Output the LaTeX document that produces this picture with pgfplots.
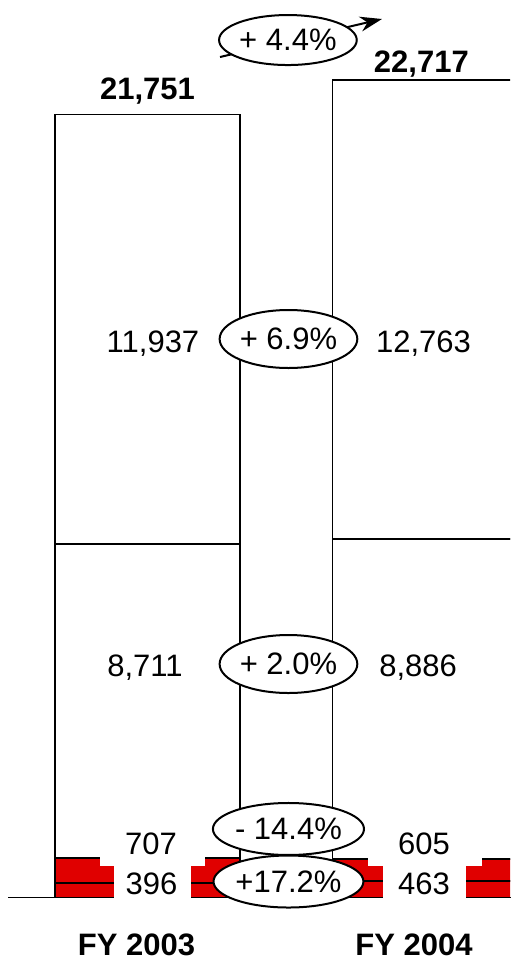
\documentclass[border=0pt]{standalone}
\usepackage{fontspec}
\setmainfont{Liberation Sans}
\usepackage{pgfplots}
\pgfplotsset{compat=1.18}
\usetikzlibrary{arrows.meta,shapes.geometric}
\definecolor{barred}{RGB}{224,0,0}
\tikzset{
  lbl/.style={font=\fontsize{15.5}{18}\selectfont, anchor=base, inner sep=0pt},
  blbl/.style={lbl, font=\fontsize{15.5}{18}\selectfont\bfseries},
  growth/.style={ellipse, draw=black, line width=1pt, fill=white,
    minimum width=63.5pt, minimum height=#1, inner sep=0pt,
    font=\fontsize{15.5}{18}\selectfont},
  growth/.default=29pt,
}
\begin{document}
\begin{tikzpicture}
\begin{axis}[
  at={(0,0)}, anchor=south west,
  scale only axis, width=255pt, height=480pt,
  xmin=-0.5315, xmax=1.3063,
  ymin=-1736, ymax=24931,
  ybar stacked, bar width=92.5pt,
  axis line style={draw=none},
  ytick=\empty,
  xtick={0,1}, xticklabels={FY 2003,FY 2004},
  major tick length=0pt,
  xticklabel style={font=\fontsize{15.5}{18}\selectfont\bfseries,
    anchor=base, inner sep=0pt, yshift=2.2pt, xshift=-5.5pt},
  clip=true,
  after end axis/.code={
    % baseline
    \draw[line width=0.85pt] (axis cs:-0.5016,0) -- (axis cs:1.4,0);
    % white patches behind the small labels
    \fill[white] (axis cs:-0.1712,1264) rectangle (axis cs:0.2072,875);
    \fill[white] (axis cs:-0.1207,875) rectangle (axis cs:0.1568,-45);
    \fill[white] (axis cs:0.7946,1264) rectangle (axis cs:1.2054,875);
    \fill[white] (axis cs:0.8486,875) rectangle (axis cs:1.1477,-45);
    % totals
    \node[blbl] at (axis cs:0,22172) {21,751};
    \node[blbl] at (axis cs:0.987,22911) {22,717};
    % segment labels
    \node[lbl] at (axis cs:0.0198,15153) {11,937};
    \node[lbl] at (axis cs:0.9946,15153) {12,763};
    \node[lbl] at (axis cs:-0.009,6133) {8,711};
    \node[lbl] at (axis cs:0.975,6133) {8,886};
    \node[lbl] at (axis cs:0.0126,1181) {707};
    \node[lbl] at (axis cs:0.0144,89) {396};
    \node[lbl] at (axis cs:0.9964,1181) {605};
    \node[lbl] at (axis cs:0.9964,89) {463};
    % growth ellipses
    \draw[line width=1pt, -{Stealth[length=11pt,width=7.5pt]}]
      (axis cs:0.2613,23347) -- (axis cs:0.845,24403);
    \node[growth=25pt] at (axis cs:0.506,23819) {+ 4.4\%};
    \node[growth] at (axis cs:0.508,15514) {+ 6.9\%};
    \node[growth] at (axis cs:0.508,6486) {+ 2.0\%};
    \node[growth=26pt] at (axis cs:0.508,1903) {- 14.4\%};
    \node[growth=26pt] at (axis cs:0.508,444) {+17.2\%};
  },
]
% Segment values, bottom to top
\addplot[fill=barred, draw=black, line width=0.85pt] coordinates {(0,396) (1,463)};
\addplot[fill=barred, draw=black, line width=0.85pt] coordinates {(0,707) (1,605)};
\addplot[fill=white, draw=black, line width=0.85pt] coordinates {(0,8711) (1,8886)};
\addplot[fill=white, draw=black, line width=0.85pt] coordinates {(0,11937) (1,12763)};
\end{axis}
\pgfresetboundingbox
\path[use as bounding box] (0,0) rectangle (255pt,480pt);
\end{tikzpicture}
\end{document}
